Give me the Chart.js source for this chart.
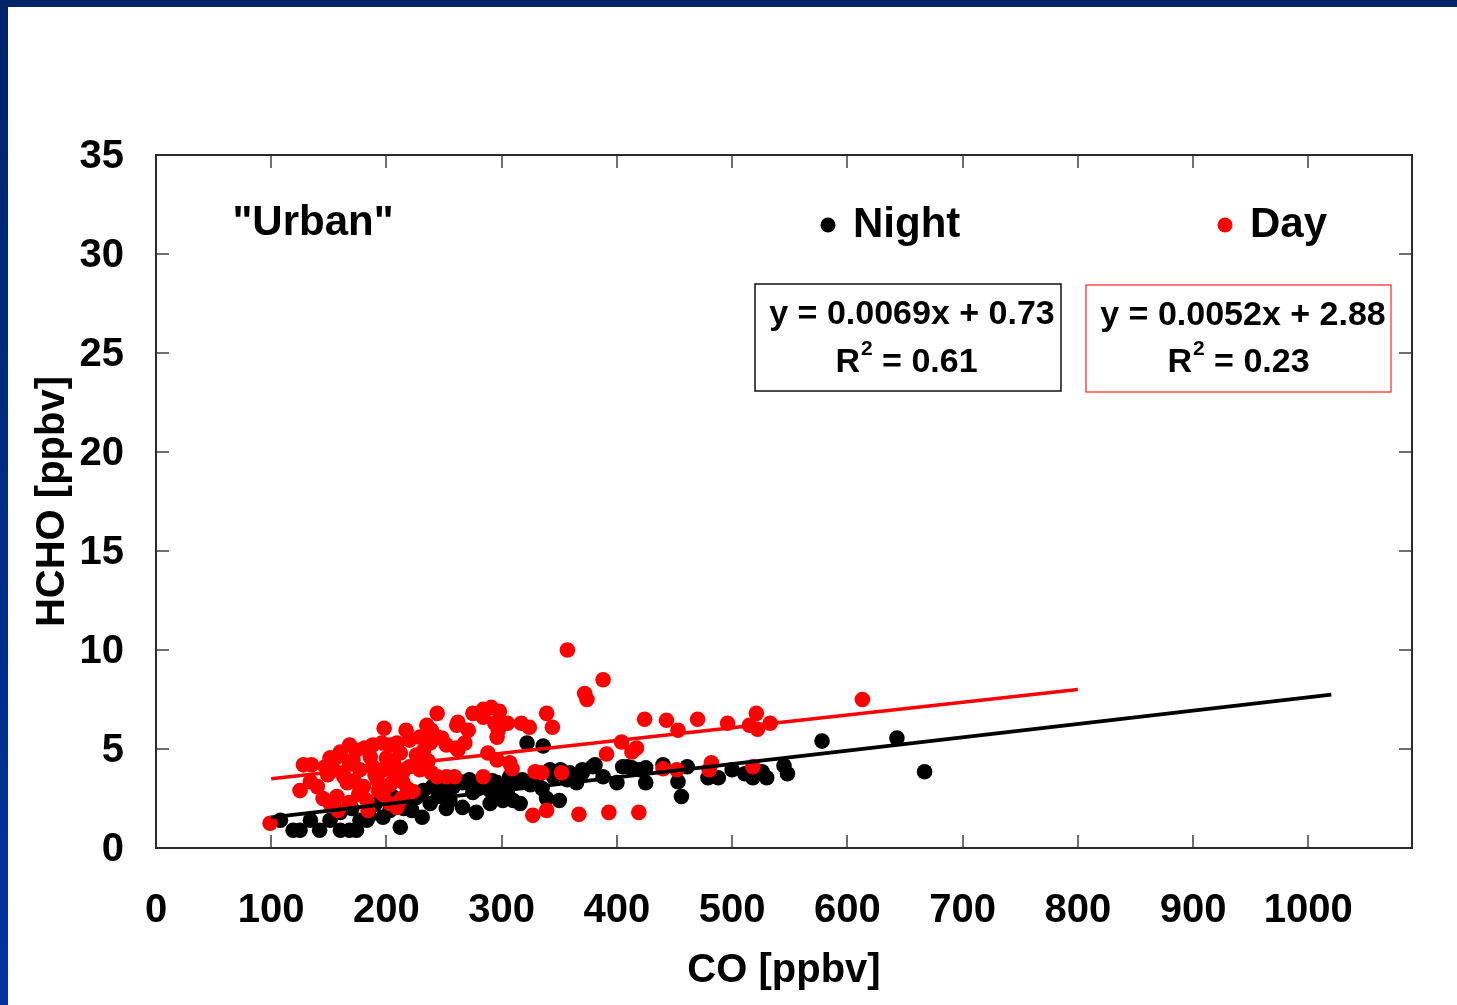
<!DOCTYPE html>
<html>
<head>
<meta charset="utf-8">
<title>HCHO vs CO - Urban</title>
<script src="https://cdn.jsdelivr.net/npm/chart.js@4.4.1/dist/chart.umd.min.js"></script>
<style>
  html, body { margin: 0; padding: 0; background: #fff; overflow: hidden; }
  #wrap { position: relative; width: 1457px; height: 1005px; }
  #topBar { position: absolute; left: 0; top: 0; width: 1457px; height: 7px; background: #002468; }
  #leftBar { position: absolute; left: 0; top: 0; width: 8px; height: 1005px; background: linear-gradient(#002468, #0033a0); }
  canvas { position: absolute; left: 0; top: 0; }
</style>
</head>
<body>
<div id="wrap">
  <canvas id="hchoChart" width="1457" height="1005"></canvas>
  <div id="topBar"></div>
  <div id="leftBar"></div>
</div>
<script>
const fontFam = '"Liberation Sans", Arial, Helvetica, sans-serif';

// axis ticks
const xTicks = [0, 100, 200, 300, 400, 500, 600, 700, 800, 900, 1000];
const yTicks = [0, 5, 10, 15, 20, 25, 30, 35];

// Night points (CO ppbv, HCHO ppbv)
const nightCO = [108, 119, 125, 134, 142, 151, 160, 168, 174, 177, 183, 197, 212, 203, 231, 160, 170, 185, 190, 205,
  215, 222, 245, 252, 218, 226, 232, 240, 249, 258, 266, 275, 284, 290, 296, 301, 310, 238, 255, 266,
  278, 290, 301, 280, 292, 305, 325, 335, 345, 261, 272, 284, 296, 307, 318, 330, 342, 351, 359, 370,
  379, 388, 400, 409, 420, 322, 336, 310, 316, 339, 350, 381, 370, 365, 357, 440, 425, 425, 405, 413,
  461, 453, 456, 479, 488, 500, 511, 518, 530, 526, 545, 548, 578, 643, 667];
const nightHCHO = [1.4, 0.9, 0.9, 1.4, 0.9, 1.4, 0.9, 0.9, 0.9, 1.4, 1.4, 1.55, 1.05, 1.9, 1.55, 1.8, 2.0, 1.6, 2.2, 2.6,
  2.0, 1.9, 2.6, 2.0, 2.4, 2.55, 2.9, 3.1, 2.9, 3.1, 3.3, 2.8, 3.3, 2.9, 2.55, 3.1, 3.3, 2.25, 2.4, 2.05,
  1.8, 2.25, 2.4, 3.0, 3.4, 2.9, 3.2, 3.0, 3.6, 3.45, 3.45, 3.55, 3.3, 3.6, 3.45, 3.3, 3.95, 3.95, 3.8, 3.95,
  4.1, 3.6, 3.3, 4.1, 3.95, 5.3, 5.15, 2.4, 2.25, 2.5, 2.4, 4.2, 3.8, 3.3, 3.45, 4.2, 3.3, 4.05, 4.1, 4.05,
  4.1, 3.35, 2.6, 3.55, 3.55, 3.95, 3.75, 3.55, 3.55, 3.85, 4.15, 3.75, 5.4, 5.55, 3.85];

// Day points (CO ppbv, HCHO ppbv)
const dayCO = [99, 125, 128, 135, 134, 140, 145, 151, 157, 168, 177, 183, 158, 184, 209, 197, 203, 213, 223, 147,
  151, 160, 168, 174, 181, 188, 196, 203, 209, 220, 229, 238, 248, 252, 261, 198, 217, 235, 239, 244,
  244, 154, 162, 168, 177, 188, 197, 206, 214, 220, 229, 166, 180, 192, 203, 214, 157, 171, 186, 200,
  212, 226, 239, 252, 244, 259, 284, 262, 268, 288, 296, 307, 309, 329, 335, 352, 261, 271, 262, 275,
  284, 291, 298, 284, 294, 297, 296, 305, 317, 324, 339, 344, 327, 339, 367, 393, 419, 357, 388, 372,
  374, 613, 424, 443, 470, 496, 521, 515, 522, 533, 453, 404, 413, 417, 391, 482, 480, 440, 452, 518,
  163, 172, 190, 207, 232, 149, 176, 193, 218, 236];
const dayHCHO = [1.25, 2.9, 4.2, 4.2, 3.35, 3.1, 2.5, 2.25, 2.6, 2.3, 2.9, 2.4, 1.9, 1.9, 2.05, 2.7, 2.25, 2.5, 2.85, 4.1,
  4.55, 4.85, 5.2, 4.95, 5.05, 5.2, 5.3, 5.2, 5.3, 5.45, 5.6, 5.3, 5.55, 5.2, 5.05, 6.05, 5.95, 6.2, 5.95, 5.6,
  6.8, 3.95, 3.8, 4.3, 3.95, 4.1, 3.95, 4.3, 3.8, 4.1, 3.95, 3.3, 3.1, 3.45, 3.2, 3.35, 4.6, 4.45, 4.6, 4.55,
  4.8, 4.7, 3.8, 3.6, 3.6, 3.6, 3.6, 4.95, 5.3, 4.8, 4.45, 4.3, 4.0, 3.85, 3.8, 3.8, 6.2, 5.95, 6.35, 6.8,
  7.0, 7.1, 6.9, 6.6, 6.3, 5.95, 5.6, 6.3, 6.3, 6.1, 6.8, 6.1, 1.65, 1.9, 1.7, 1.8, 1.8, 10.0, 8.5, 7.8,
  7.5, 7.5, 6.5, 6.45, 6.5, 6.3, 6.8, 6.2, 6.0, 6.3, 5.95, 5.35, 4.85, 5.05, 4.75, 4.3, 3.95, 4.0, 3.95, 4.1,
  3.6, 3.4, 3.7, 3.6, 4.9, 3.7, 2.7, 2.9, 3.0, 4.4];

// regression lines as drawn (end points)
const nightFitCO = [100, 1020];
const nightFitHCHO = [1.55, 7.75];
const dayFitCO = [100, 800];
const dayFitHCHO = [3.5, 8.0];

function toPoints(xs, ys) {
    return xs.map((x, i) => ({ x: x, y: ys[i] }));
}

// inward tick marks + plot frame
const framePlugin = {
    id: 'framePlugin',
    beforeDatasetsDraw(chart) {
        const { ctx, chartArea: a, scales } = chart;
        ctx.save();
        ctx.strokeStyle = '#6f6f6f';
        ctx.lineWidth = 2;
        ctx.beginPath();
        xTicks.forEach(v => {
            const px = Math.round(scales.x.getPixelForValue(v));
            ctx.moveTo(px, a.bottom); ctx.lineTo(px, a.bottom - 13);
            ctx.moveTo(px, a.top); ctx.lineTo(px, a.top + 13);
        });
        yTicks.forEach(v => {
            const py = Math.round(scales.y.getPixelForValue(v));
            ctx.moveTo(a.left, py); ctx.lineTo(a.left + 13, py);
            ctx.moveTo(a.right, py); ctx.lineTo(a.right - 13, py);
        });
        ctx.stroke();
        ctx.strokeStyle = '#2a2a2a';
        ctx.lineWidth = 2;
        ctx.strokeRect(a.left, a.top, a.right - a.left, a.bottom - a.top);
        ctx.restore();
    }
};

// "Urban" label, legend and fit equation boxes
function drawEquation(ctx, cx, cx2, y1, y2, eq, r2) {
    const big = 'bold 34px ' + fontFam;
    const small = 'bold 21px ' + fontFam;
    ctx.textAlign = 'center';
    ctx.font = big;
    ctx.fillText(eq, cx, y1);
    // R^2 line with superscript
    ctx.textAlign = 'left';
    const wR = ctx.measureText('R').width;
    const wRest = ctx.measureText(' = ' + r2).width;
    ctx.font = small;
    const w2 = ctx.measureText('2').width;
    let x = cx2 - (wR + w2 + wRest) / 2;
    ctx.font = big;
    ctx.fillText('R', x, y2);
    ctx.font = small;
    ctx.fillText('2', x + wR + 1, y2 - 14);
    ctx.font = big;
    ctx.fillText(' = ' + r2, x + wR + w2 + 1, y2);
}

const labelPlugin = {
    id: 'labelPlugin',
    afterDraw(chart) {
        const { ctx, chartArea: a } = chart;
        ctx.save();
        ctx.fillStyle = '#000';
        ctx.textBaseline = 'middle';
        ctx.font = 'bold 42px ' + fontFam;
        ctx.textAlign = 'center';
        ctx.fillText('"Urban"', a.left + 157, a.top + 68);

        // legend
        ctx.beginPath();
        ctx.arc(a.left + 672, a.top + 70, 7.5, 0, Math.PI * 2);
        ctx.fill();
        ctx.textAlign = 'left';
        ctx.fillText('Night', a.left + 697, a.top + 70);
        ctx.fillStyle = '#ff0000';
        ctx.beginPath();
        ctx.arc(a.left + 1069, a.top + 70, 7.5, 0, Math.PI * 2);
        ctx.fill();
        ctx.fillStyle = '#000';
        ctx.fillText('Day', a.left + 1094, a.top + 70);

        // equation boxes
        ctx.lineWidth = 1.5;
        ctx.strokeStyle = '#111';
        ctx.strokeRect(a.left + 599, a.top + 129, 306, 107);
        ctx.lineWidth = 1.2;
        ctx.strokeStyle = '#ff2020';
        ctx.strokeRect(a.left + 930, a.top + 130, 305, 107);
        drawEquation(ctx, a.left + 756, a.left + 750, a.top + 160, a.top + 208, 'y = 0.0069x + 0.73', '0.61');
        drawEquation(ctx, a.left + 1087, a.left + 1082, a.top + 161, a.top + 208, 'y = 0.0052x + 2.88', '0.23');
        ctx.restore();
    }
};

const boldFont = { family: fontFam, size: 40, weight: 'bold' };

let ctx = document.getElementById('hchoChart').getContext('2d');
window.myChart = new Chart(ctx, {
    type: 'scatter',
    data: {
        datasets: [
            { type: 'line', label: 'Night fit', data: toPoints(nightFitCO, nightFitHCHO), borderColor: '#000', borderWidth: 3.8, pointRadius: 0, fill: false, order: 0 },
            { type: 'line', label: 'Day fit', data: toPoints(dayFitCO, dayFitHCHO), borderColor: '#ff0000', borderWidth: 3.5, pointRadius: 0, fill: false, order: 0 },
            { label: 'Day', data: toPoints(dayCO, dayHCHO), backgroundColor: '#ff0000', borderWidth: 0, pointRadius: 7.8, order: 1 },
            { label: 'Night', data: toPoints(nightCO, nightHCHO), backgroundColor: '#000000', borderWidth: 0, pointRadius: 7.8, order: 2 }
        ]
    },
    options: {
        responsive: false,
        animation: false,
        devicePixelRatio: 1,
        layout: { padding: { left: 0, top: 155, right: 45, bottom: 0 } },
        plugins: { legend: { display: false }, tooltip: { enabled: false } },
        scales: {
            x: {
                type: 'linear', position: 'bottom', min: 0, max: 1090,
                afterBuildTicks: s => { s.ticks = xTicks.map(v => ({ value: v })); },
                afterFit: s => { s.height = 157; },
                grid: { display: false, drawTicks: false },
                border: { display: false },
                ticks: { font: boldFont, color: '#000', padding: 39, maxRotation: 0, autoSkip: false, callback: v => String(v) },
                title: { display: true, text: 'CO [ppbv]', font: boldFont, color: '#000', padding: { top: 0, bottom: 10 } }
            },
            y: {
                type: 'linear', position: 'left', min: 0, max: 35,
                afterBuildTicks: s => { s.ticks = yTicks.map(v => ({ value: v })); },
                afterFit: s => { s.width = 156; },
                grid: { display: false, drawTicks: false },
                border: { display: false },
                ticks: { font: boldFont, color: '#000', padding: 32, labelOffset: 2, autoSkip: false, callback: v => String(v) },
                title: { display: true, text: 'HCHO [ppbv]', font: boldFont, color: '#000', padding: { top: 29, bottom: 0 } }
            }
        }
    },
    plugins: [framePlugin, labelPlugin]
});
</script>
</body>
</html>
